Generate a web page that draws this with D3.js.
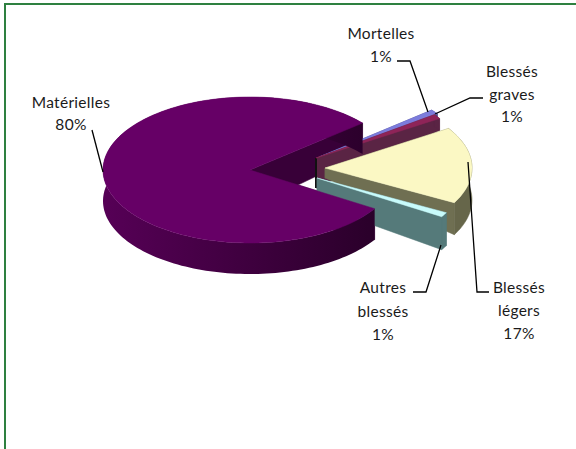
<!DOCTYPE html>
<html>
<head>
<meta charset="utf-8">
<script src="https://cdn.jsdelivr.net/npm/d3@7"></script>
<style>
  html, body { margin: 0; background: #fff; }
  svg { display: block; }
  text { font-family: Lato, "Open Sans", sans-serif; font-size: 15.5px; letter-spacing: 0.3px; fill: #1a1a1a; text-anchor: middle; }
</style>
</head>
<body>
<svg id="chart" width="576" height="449"></svg>
<script>
const categories = ['Mortelles', 'Blessés graves', 'Blessés légers', 'Autres blessés', 'Matérielles'];
const shares = [1, 1, 17, 1, 80];

// colours: top face, cut face, outer wall
const topColors = ['#7c7cdc', '#8e2458', '#fbf8c4', '#c8fbfb', '#660066'];
const cutColors = ['#4c4c88', '#5a2444', '#6f6f52', '#557a7a', '#380038'];
const wallColors = ['#4c4c88', '#5a2444', '#66664a', '#557a7a', 'url(#mainWall)'];

// exploded apex of each slice, and the extruded height at the apex and at the rim
const apexX = [319, 316, 325, 317, 250];
const apexY = [157, 158, 168, 178, 170];
const apexDepth = [4, 30, 10, 27, 38];
const rimDepth = [4, 12, 32, 33, 31];

const labelLines = [['Mortelles', '1%'], ['Blessés', 'graves', '1%'], ['Blessés', 'légers', '17%'], ['Autres', 'blessés', '1%'], ['Matérielles', '80%']];

const svg = d3.select('#chart');

const grad = svg.append('defs').append('linearGradient')
  .attr('id', 'mainWall')
  .attr('x1', 0).attr('x2', 1).attr('y1', 0).attr('y2', 0);
grad.append('stop').attr('offset', '0%').attr('stop-color', '#560056');
grad.append('stop').attr('offset', '100%').attr('stop-color', '#2a002a');

// Green frame, open on the right and bottom
svg.append('path')
  .attr('d', d3.line()([[5, 449], [5, 4], [576, 4]]))
  .attr('fill', 'none')
  .attr('stroke', '#2e8040')
  .attr('stroke-width', 2);

// Pie layout, elliptical projection for the tilt
const startAngle = 50 * Math.PI / 180;
const pie = d3.pie().sort(null).startAngle(startAngle).endAngle(startAngle + 2 * Math.PI);
const slices = pie(shares);
const rx = d3.scaleLinear().domain([0, 1]).range([0, 147]);
const ry = d3.scaleLinear().domain([0, 1]).range([0, 73]);
const line = d3.line();

function rimPoints(d, i, depth) {
  const steps = Math.max(2, Math.ceil((d.endAngle - d.startAngle) / 0.03));
  return d3.range(steps + 1).map(s => {
    const a = d.startAngle + (d.endAngle - d.startAngle) * s / steps;
    return [apexX[i] + rx(Math.sin(a)), apexY[i] - ry(Math.cos(a)) + depth];
  });
}

const g = svg.append('g');

function drawCuts(d, i) {
  const rim = rimPoints(d, i, 0);
  const rimLow = rimPoints(d, i, rimDepth[i]);
  const apex = [apexX[i], apexY[i]];
  const apexLow = [apexX[i], apexY[i] + apexDepth[i]];
  [[rim[0], rimLow[0]], [rim[rim.length - 1], rimLow[rimLow.length - 1]]].forEach(e => {
    g.append('path')
      .attr('d', line([apex, e[0], e[1], apexLow]) + 'Z')
      .attr('fill', cutColors[i])
      .attr('stroke', cutColors[i])
      .attr('stroke-width', 0.5);
  });
  // dark corner where the graves slice turns
  if (i === 1) {
    g.append('path')
      .attr('d', line([apex, apexLow]))
      .attr('stroke', '#111')
      .attr('stroke-width', 2);
  }
}

function drawShell(d, i) {
  const rim = rimPoints(d, i, 0);
  const rimLow = rimPoints(d, i, rimDepth[i]);
  // outer wall
  g.append('path')
    .attr('d', line(rim.concat(rimLow.slice().reverse())) + 'Z')
    .attr('fill', wallColors[i])
    .attr('stroke', i === 4 ? 'none' : wallColors[i])
    .attr('stroke-width', 0.5);
  // top face
  g.append('path')
    .attr('d', line([[apexX[i], apexY[i]]].concat(rim)) + 'Z')
    .attr('fill', topColors[i])
    .attr('stroke', topColors[i])
    .attr('stroke-width', 0.5);
}

// The big slice's inner cut sits behind the small slices, its shell in front of them
const big = slices.length - 1;
drawCuts(slices[big], big);
slices.slice(0, big).forEach((d, i) => {
  drawCuts(d, i);
  drawShell(d, i);
});
drawShell(slices[big], big);

// Leader lines
const leaders = [
  [[397, 61], [410, 61], [428, 112]],
  [[483, 98], [470, 98], [435, 114]],
  [[489, 292], [477, 292], [468, 162]],
  [[413, 292], [426, 292], [441, 245]],
  [[92, 130], [103, 172]]
];
leaders.forEach(p => {
  svg.append('path')
    .attr('d', line(p))
    .attr('fill', 'none')
    .attr('stroke', '#000')
    .attr('stroke-width', 1.3);
});

// Labels
const labelX = [381, 512, 519, 383, 71];
const labelY = [39, 77, 293, 293, 108];
const lineGaps = [23, 22.5, 23, 23.5, 22];
labelLines.forEach((lines, i) => {
  lines.forEach((t, j) => {
    svg.append('text')
      .attr('x', labelX[i])
      .attr('y', labelY[i] + j * lineGaps[i])
      .text(t);
  });
});
</script>
</body>
</html>
